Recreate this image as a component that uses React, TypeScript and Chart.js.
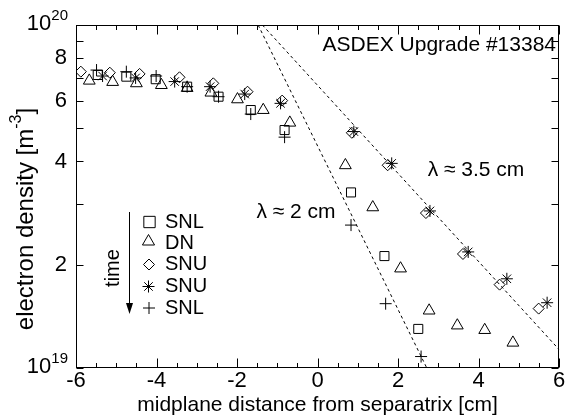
import React, { useEffect, useRef } from 'react';
import { Chart, registerables } from 'chart.js';

Chart.register(...registerables);

const FONT = '"Liberation Sans", Arial, Helvetica, sans-serif';

// ---- data (x in cm, density in units of 1e19 m^-3) ----
const squareSNL_x = [-5.46, -4.75, -4.02, -3.24, -2.46, -1.66, -0.82, 0.83, 1.66, 2.5];
const squareSNL_y = [7.15, 7.07, 6.95, 6.61, 6.18, 5.65, 4.94, 3.25, 2.12, 1.3];

const triangleDN_x = [-5.67, -5.09, -4.5, -3.88, -3.24, -2.65, -1.99, -1.35, -0.69, 0.69, 1.37, 2.06, 2.77, 3.47, 4.15, 4.85];
const triangleDN_y = [6.88, 6.82, 6.76, 6.68, 6.55, 6.35, 6.07, 5.65, 5.19, 3.9, 2.94, 1.95, 1.47, 1.33, 1.29, 1.185];

const diamondSNU_x = [-5.88, -5.16, -4.42, -3.43, -2.59, -1.74, -0.88, 0.85, 1.74, 2.69, 3.61, 4.52, 5.49];
const diamondSNU_y = [7.31, 7.26, 7.2, 7.04, 6.76, 6.39, 6.02, 4.85, 3.9, 2.83, 2.15, 1.75, 1.49];

const starSNU_x = [-5.34, -4.52, -3.55, -2.67, -1.81, -0.92, 0.9, 1.84, 2.79, 3.74, 4.7, 5.7];
const starSNU_y = [7.1, 7.01, 6.84, 6.61, 6.29, 5.91, 4.89, 3.95, 2.87, 2.18, 1.82, 1.55];

const plusSNL_x = [-5.49, -4.75, -4.01, -3.24, -2.46, -1.66, -0.82, 0.83, 1.69, 2.57];
const plusSNL_y = [7.39, 7.31, 7.1, 6.61, 6.18, 5.5, 4.71, 2.61, 1.54, 1.08];

// fitted decay lines (lambda ~ 2 cm, lambda ~ 3.5 cm)
const fit2_x = [-1.477, 2.712];
const fit2_y = [10, 1];
const fit35_x = [-1.371, 6];
const fit35_y = [10, 1.131];

const legendLabels = ['SNL', 'DN', 'SNU', 'SNU', 'SNL'];
const xTickValues = [-6, -4, -2, 0, 2, 4, 6];
const yTickValues = [1, 2, 3, 4, 5, 6, 7, 8, 9, 10];
const yLabeledTicks = [2, 4, 6, 8];
const titleText = 'ASDEX Upgrade #13384';
const lambda2Text = 'λ ≈ 2 cm';
const lambda35Text = 'λ ≈ 3.5 cm';
const xTitle = 'midplane distance from separatrix [cm]';
const yTitleMain = 'electron density [m';
const yTitleSup = '-3';

const E19 = 1e19;
const toPts = (xs: number[], ys: number[]) => xs.map((x, i) => ({ x, y: ys[i] * E19 }));

function drawMarker(ctx: CanvasRenderingContext2D, style: string, x: number, y: number, r: number) {
  ctx.beginPath();
  if (style === 'rect') {
    const s = r * Math.SQRT1_2;
    ctx.rect(x - s, y - s, 2 * s, 2 * s);
  } else if (style === 'triangle') {
    let a = 0;
    ctx.moveTo(x + Math.sin(a) * r, y - Math.cos(a) * r);
    a += (2 * Math.PI) / 3;
    ctx.lineTo(x + Math.sin(a) * r, y - Math.cos(a) * r);
    a += (2 * Math.PI) / 3;
    ctx.lineTo(x + Math.sin(a) * r, y - Math.cos(a) * r);
    ctx.closePath();
  } else if (style === 'rectRot') {
    ctx.moveTo(x - r, y);
    ctx.lineTo(x, y - r);
    ctx.lineTo(x + r, y);
    ctx.lineTo(x, y + r);
    ctx.closePath();
  } else if (style === 'star') {
    ctx.moveTo(x - r, y); ctx.lineTo(x + r, y);
    ctx.moveTo(x, y - r); ctx.lineTo(x, y + r);
    const d = r * Math.SQRT1_2;
    ctx.moveTo(x - d, y - d); ctx.lineTo(x + d, y + d);
    ctx.moveTo(x - d, y + d); ctx.lineTo(x + d, y - d);
  } else if (style === 'cross') {
    ctx.moveTo(x - r, y); ctx.lineTo(x + r, y);
    ctx.moveTo(x, y - r); ctx.lineTo(x, y + r);
  }
  ctx.stroke();
}

const overlayPlugin = {
  id: 'overlay',
  afterDraw(chart: any) {
    const { ctx, chartArea: a, scales } = chart;
    const xs = scales.x;
    const ys = scales.y;
    ctx.save();
    ctx.strokeStyle = '#000';
    ctx.fillStyle = '#000';
    ctx.lineWidth = 1;
    const L = Math.round(a.left) + 0.5;
    const R = Math.round(a.right) - 0.5;
    const T = Math.round(a.top) + 0.5;
    const B = Math.round(a.bottom) - 0.5;
    ctx.strokeRect(L, T, R - L, B - T);

    // x ticks (inward, bottom and top)
    ctx.beginPath();
    for (let k = 0; k <= 24; k++) {
      const v = -6 + k * 0.5;
      const px = Math.round(xs.getPixelForValue(v)) + 0.5;
      const len = xTickValues.includes(v) ? 9 : 4.5;
      ctx.moveTo(px, B); ctx.lineTo(px, B - len);
      ctx.moveTo(px, T); ctx.lineTo(px, T + len);
    }
    // y ticks (inward, left and right)
    for (const v of yTickValues) {
      const py = Math.round(ys.getPixelForValue(v * E19)) + 0.5;
      ctx.moveTo(L, py); ctx.lineTo(L + 7, py);
      ctx.moveTo(R, py); ctx.lineTo(R - 7, py);
    }
    ctx.stroke();

    // decade labels 10^19, 10^20
    const decade = (val: number, exp: string) => {
      const py = ys.getPixelForValue(val);
      ctx.textBaseline = 'middle';
      ctx.textAlign = 'left';
      ctx.font = `15px ${FONT}`;
      const supW = ctx.measureText(exp).width;
      ctx.font = `22px ${FONT}`;
      const baseW = ctx.measureText('10').width;
      const end = 68;
      ctx.fillText('10', end - supW - baseW, py - 1);
      ctx.font = `15px ${FONT}`;
      ctx.fillText(exp, end - supW, py - 9);
    };
    decade(1e20, '20');
    decade(1e19, '19');

    // x title
    ctx.font = `21px ${FONT}`;
    ctx.textAlign = 'center';
    ctx.textBaseline = 'middle';
    ctx.fillText(xTitle, (a.left + a.right) / 2, 405);

    // y title (rotated, with superscript)
    ctx.save();
    ctx.translate(26, 219);
    ctx.rotate(-Math.PI / 2);
    ctx.font = `24px ${FONT}`;
    const w1 = ctx.measureText(yTitleMain).width;
    ctx.font = `16px ${FONT}`;
    const w2 = ctx.measureText(yTitleSup).width;
    ctx.font = `24px ${FONT}`;
    const w3 = ctx.measureText(']').width;
    const total = w1 + w2 + w3;
    let cx = -total / 2;
    ctx.textAlign = 'left';
    ctx.fillText(yTitleMain, cx, 0);
    cx += w1;
    ctx.font = `16px ${FONT}`;
    ctx.fillText(yTitleSup, cx, -9);
    cx += w2;
    ctx.font = `24px ${FONT}`;
    ctx.fillText(']', cx, 0);
    ctx.restore();

    // annotations
    ctx.font = `21px ${FONT}`;
    ctx.textAlign = 'right';
    ctx.textBaseline = 'middle';
    ctx.fillText(titleText, 556, 45);
    ctx.textAlign = 'center';
    ctx.fillText(lambda2Text, 296, 212);
    ctx.fillText(lambda35Text, 476, 170);

    // legend
    const styles = ['rect', 'triangle', 'rectRot', 'star', 'cross'];
    const radii = [8, 7, 5.5, 6, 6];
    const rowY = [222, 243, 264.5, 286.5, 308];
    const symX = [149.5, 148.5, 149, 148.5, 149];
    ctx.lineWidth = 1;
    for (let i = 0; i < legendLabels.length; i++) {
      const yy = rowY[i] + (styles[i] === 'triangle' ? -1.5 : 0);
      drawMarker(ctx, styles[i], symX[i], yy, radii[i]);
      ctx.font = `20px ${FONT}`;
      ctx.textAlign = 'left';
      ctx.textBaseline = 'middle';
      ctx.fillText(legendLabels[i], 165, rowY[i]);
    }
    // time arrow
    ctx.beginPath();
    ctx.moveTo(129.5, 212);
    ctx.lineTo(129.5, 305);
    ctx.stroke();
    ctx.beginPath();
    ctx.moveTo(129.5, 314);
    ctx.lineTo(126, 303);
    ctx.lineTo(133, 303);
    ctx.closePath();
    ctx.fill();
    ctx.save();
    ctx.translate(113, 268);
    ctx.rotate(-Math.PI / 2);
    ctx.font = `20px ${FONT}`;
    ctx.textAlign = 'center';
    ctx.textBaseline = 'middle';
    ctx.fillText('time', 0, 0);
    ctx.restore();

    ctx.restore();
  },
};

export default function App() {
  const canvasRef = useRef<HTMLCanvasElement | null>(null);

  useEffect(() => {
    if (!canvasRef.current) return;
    const markerCommon = {
      showLine: false,
      borderColor: '#000',
      backgroundColor: 'rgba(0,0,0,0)',
      borderWidth: 1,
      pointBorderWidth: 1,
    };
    const chart = new Chart(canvasRef.current, {
      type: 'scatter',
      data: {
        datasets: [
          { label: 'SNL', data: toPts(squareSNL_x, squareSNL_y), pointStyle: 'rect', pointRadius: 6.4, ...markerCommon },
          { label: 'DN', data: toPts(triangleDN_x, triangleDN_y), pointStyle: 'triangle', pointRadius: 6.8, ...markerCommon },
          { label: 'SNU', data: toPts(diamondSNU_x, diamondSNU_y), pointStyle: 'rectRot', pointRadius: 5.5, ...markerCommon },
          { label: 'SNU', data: toPts(starSNU_x, starSNU_y), pointStyle: 'star', pointRadius: 6, ...markerCommon },
          { label: 'SNL', data: toPts(plusSNL_x, plusSNL_y), pointStyle: 'cross', pointRadius: 6, ...markerCommon },
          {
            label: 'fit2', data: toPts(fit2_x, fit2_y), showLine: true, pointRadius: 0,
            borderColor: '#000', borderWidth: 1, borderDash: [3, 3], backgroundColor: 'rgba(0,0,0,0)',
          },
          {
            label: 'fit35', data: toPts(fit35_x, fit35_y), showLine: true, pointRadius: 0,
            borderColor: '#000', borderWidth: 1, borderDash: [3, 3], backgroundColor: 'rgba(0,0,0,0)',
          },
        ],
      },
      options: {
        responsive: false,
        animation: false,
        events: [],
        layout: { padding: { left: 0, top: 25, right: 5, bottom: 0 } },
        plugins: { legend: { display: false }, tooltip: { enabled: false } },
        scales: {
          x: {
            type: 'linear',
            min: -6,
            max: 6,
            grid: { display: false, drawTicks: false },
            border: { display: false },
            afterBuildTicks: (s: any) => { s.ticks = xTickValues.map((v) => ({ value: v })); },
            ticks: {
              autoSkip: false,
              maxRotation: 0,
              padding: 0,
              color: '#000',
              font: { family: FONT, size: 22 },
              callback: (v: any) => String(v),
            },
            afterFit: (s: any) => { s.height = 48; s.paddingLeft = 0; s.paddingRight = 0; },
          },
          y: {
            type: 'logarithmic',
            min: 1e19,
            max: 1e20,
            grid: { display: false, drawTicks: false },
            border: { display: false },
            afterBuildTicks: (s: any) => { s.ticks = yTickValues.map((v) => ({ value: v * E19 })); },
            ticks: {
              autoSkip: false,
              padding: 9,
              color: '#000',
              font: { family: FONT, size: 22 },
              callback: (v: any) => {
                const n = Math.round(Number(v) / E19);
                return yLabeledTicks.includes(n) ? String(n) : '';
              },
            },
            afterFit: (s: any) => { s.width = 76; s.paddingTop = 0; s.paddingBottom = 0; },
          },
        },
      },
      plugins: [overlayPlugin],
    } as any);
    return () => chart.destroy();
  }, []);

  return (
    <div style={{ position: 'fixed', left: 0, top: 0, width: 567, height: 416, background: '#fff' }}>
      <canvas ref={canvasRef} width={567} height={416} style={{ display: 'block' }} />
    </div>
  );
}
